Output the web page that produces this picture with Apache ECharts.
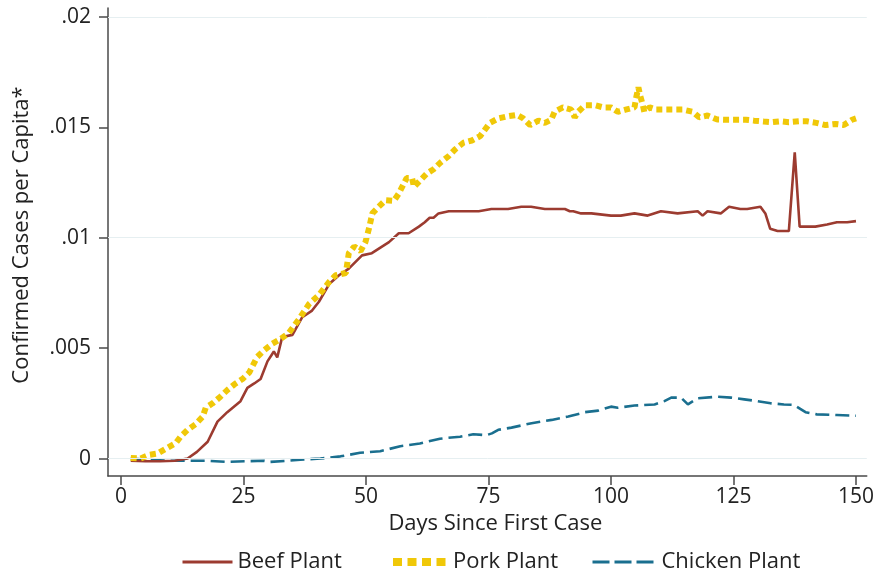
<!DOCTYPE html>
<html>
<head>
<meta charset="utf-8">
<script src="https://cdn.jsdelivr.net/npm/echarts@6/dist/echarts.min.js"></script>
<style>html,body{margin:0;padding:0;background:#fff;}#c{width:877px;height:574px;}</style>
</head>
<body>
<div id="c"></div>
<script>
const xTicks = [0, 25, 50, 75, 100, 125, 150];
const yTicks = [0, 0.005, 0.01, 0.015, 0.02];
const yTickLabels = ['0', '.005', '.01', '.015', '.02'];

const beefDays = [2,5,8,11,13.6,15.5,17.7,19.7,21.7,24.4,25.8,27.2,28.5,29.9,31.2,31.9,32.9,35,37,39,40.4,42.5,44.5,46.5,49.2,51.2,54.7,56.7,58.7,60.8,62,63,63.8,64.8,66.9,70.3,73,75.6,77,79,81.7,83.7,86.5,89.2,90.6,91.6,92.3,93.9,96,100,102,104.8,107.5,110.2,113.6,117.7,118.7,119.7,122.4,124.1,126.4,127.8,130.5,131.5,132.5,134,136.3,137.5,138.5,139.6,141.7,144.1,146.1,148.2,150];
const beefVals = [-0.0001,-0.00012,-0.00012,-0.0001,0,0.0003,0.00076,0.00167,0.0021,0.0026,0.0032,0.0034,0.0036,0.0044,0.00485,0.00458,0.0055,0.0056,0.0064,0.0067,0.0071,0.0079,0.0083,0.0086,0.0092,0.0093,0.0098,0.0102,0.0102,0.0105,0.0107,0.0109,0.0109,0.0111,0.0112,0.0112,0.0112,0.0113,0.0113,0.0113,0.0114,0.0114,0.0113,0.0113,0.0113,0.0112,0.0112,0.0111,0.0111,0.0110,0.0110,0.0111,0.0110,0.0112,0.0111,0.0112,0.0110,0.0112,0.0111,0.0114,0.0113,0.0113,0.0114,0.0111,0.0104,0.0103,0.0103,0.01386,0.0105,0.0105,0.0105,0.0106,0.0107,0.0107,0.01075];

const porkDays = [2,4,5.8,7.5,9.2,11.2,12.2,13.6,15.2,16.7,17.3,18.7,20.3,21.7,23.1,24.8,26.2,27.8,29.2,30.9,32.5,34.3,36.3,38.4,40.4,42.5,43.8,45.9,46.5,47.6,48.9,49.9,50.6,51.3,52.6,54,55.7,56,56.7,58.3,59.4,59.8,61.1,62.4,63.8,65.2,66.9,68.2,69.9,71.6,73.3,74.3,75.3,77,79,80.8,82.1,83.5,85.2,86.5,87.8,88.5,90.2,91.9,92.6,93.3,94.7,96.7,98.4,100,101.4,103,104.8,105.1,105.6,106,106.5,106.8,107.9,109.2,110.9,112.9,114.6,116.7,118,119.7,121.7,123.8,125.5,127.5,129.2,131.2,132.9,134.6,136.3,138.4,140,141.9,143.8,145.8,147.5,149.2,150];
const porkVals = [0.00003,0,0.00017,0.00023,0.00045,0.0007,0.001,0.0013,0.00155,0.0019,0.0023,0.0025,0.0028,0.0031,0.00335,0.0036,0.0039,0.0046,0.0049,0.0052,0.0054,0.0057,0.0063,0.0070,0.0074,0.0080,0.0083,0.0084,0.0093,0.0096,0.0094,0.0098,0.0104,0.0111,0.0114,0.0117,0.01167,0.0116,0.0120,0.0127,0.0127,0.0123,0.0126,0.0129,0.0131,0.0134,0.0137,0.0140,0.0143,0.0144,0.0146,0.0149,0.0152,0.0154,0.0155,0.01556,0.0154,0.0151,0.0153,0.0152,0.01534,0.0157,0.0159,0.0158,0.01545,0.0157,0.0160,0.0160,0.0159,0.0159,0.0157,0.0158,0.0159,0.0163,0.0168,0.0164,0.0160,0.0157,0.0159,0.0158,0.0158,0.0158,0.0158,0.0157,0.01545,0.01553,0.01535,0.01534,0.01534,0.01534,0.0153,0.01526,0.01523,0.01527,0.01523,0.01527,0.01527,0.0152,0.0151,0.01515,0.0151,0.01534,0.0154];

const chickenDays = [2,5.5,9.6,13.6,17.7,21.7,25.8,29.2,30.5,34,36.6,40.7,44.8,48.8,52.9,57,61,65.1,69.2,71.9,74.6,75.7,77,79.7,83.8,87.9,91.3,94.7,97.4,100,101.4,104.8,108.9,110.9,112.3,114.3,115.7,117.7,121.7,124.5,127.2,129.9,132.6,135.3,137.3,139.7,142,146.1,150];
const chickenVals = [0,-0.00005,-0.0001,-0.0001,-0.0001,-0.00015,-0.00012,-0.0001,-0.00015,-0.0001,-0.00005,0,0.0001,0.00026,0.00033,0.00056,0.00068,0.0009,0.00099,0.0011,0.00106,0.00114,0.0013,0.0014,0.0016,0.00175,0.0019,0.0021,0.00217,0.00235,0.0023,0.0024,0.00245,0.0026,0.00276,0.00276,0.00245,0.00273,0.0028,0.00276,0.00268,0.0026,0.0025,0.00245,0.00243,0.0021,0.002,0.00197,0.00194];

const pairs = (d, v) => d.map((x, i) => [x, v[i]]);
const FONT = 'Open Sans';
const FS = 22;
const FST = 21;
const TXT = '#222';
const AX = '#4a4a4a';
const BEEF = '#9c3b30', PORK = '#f0c808', CHICKEN = '#1a6f8f';

const chart = echarts.init(document.getElementById('c'), null, {renderer: 'canvas'});
const legendBase = {top: 551, padding: 0, itemHeight: 14, textStyle: {fontFamily: FONT, fontSize: FS, color: TXT}, itemGap: 8, itemStyle: {opacity: 0}};
chart.setOption({
  animation: false,
  backgroundColor: '#fff',
  grid: {left: 108, right: 7, top: 8, bottom: 98},
  xAxis: {
    type: 'value', min: -2.64, max: 152.2,
    name: 'Days Since First Case', nameLocation: 'middle', nameGap: 34,
    nameTextStyle: {fontFamily: FONT, fontSize: FS, color: TXT, padding: [0, 0, 0, 16]},
    axisLine: {show: true, onZero: false, lineStyle: {color: AX, width: 1.5}},
    axisTick: {show: true, length: 9, customValues: xTicks, lineStyle: {color: AX, width: 1.5}},
    axisLabel: {customValues: xTicks, margin: 11, fontFamily: FONT, fontSize: FST, color: TXT},
    splitLine: {show: false}
  },
  yAxis: {
    type: 'value', min: -0.00079, max: 0.0204,
    name: 'Confirmed Cases per Capita*', nameLocation: 'middle', nameGap: 75,
    nameTextStyle: {fontFamily: FONT, fontSize: FS, color: TXT, padding: [0, 0, 0, 14]},
    axisLine: {show: true, onZero: false, lineStyle: {color: AX, width: 1.5}},
    axisTick: {show: true, length: 9, customValues: yTicks, lineStyle: {color: AX, width: 1.5}},
    axisLabel: {customValues: yTicks, margin: 17, fontFamily: FONT, fontSize: FST, color: TXT,
      formatter: v => { const i = yTicks.findIndex(t => Math.abs(t - v) < 1e-9); return i >= 0 ? yTickLabels[i] : ''; }},
    splitLine: {show: false}
  },
  legend: [
    Object.assign({}, legendBase, {left: 181, itemWidth: 50, data: ['Beef Plant'], lineStyle: {width: 3}}),
    Object.assign({}, legendBase, {left: 389, itemWidth: 55, data: ['Pork Plant'], lineStyle: {width: 8, type: [9, 5.5]}}),
    Object.assign({}, legendBase, {left: 591, itemWidth: 64, data: ['Chicken Plant'], lineStyle: {width: 3, type: [17, 5]}})
  ],
  series: [
    {name: 'grid', type: 'line', data: [], silent: true,
      markLine: {symbol: 'none', silent: true, label: {show: false},
        lineStyle: {color: '#e6eff1', width: 1, type: 'solid'},
        data: yTicks.map(t => ({yAxis: t}))}},
    {name: 'Beef Plant', type: 'line', data: pairs(beefDays, beefVals), showSymbol: false, symbol: 'none',
      lineStyle: {color: BEEF, width: 2.6}, itemStyle: {color: BEEF}, z: 3},
    {name: 'Pork Plant', type: 'line', data: pairs(porkDays, porkVals), showSymbol: false, symbol: 'none',
      lineStyle: {color: PORK, width: 6, type: [6, 4], cap: 'butt'}, itemStyle: {color: PORK}, z: 4},
    {name: 'Chicken Plant', type: 'line', data: pairs(chickenDays, chickenVals), showSymbol: false, symbol: 'none',
      lineStyle: {color: CHICKEN, width: 2.6, type: [14, 6]}, itemStyle: {color: CHICKEN}, z: 2}
  ]
});
</script>
</body>
</html>
